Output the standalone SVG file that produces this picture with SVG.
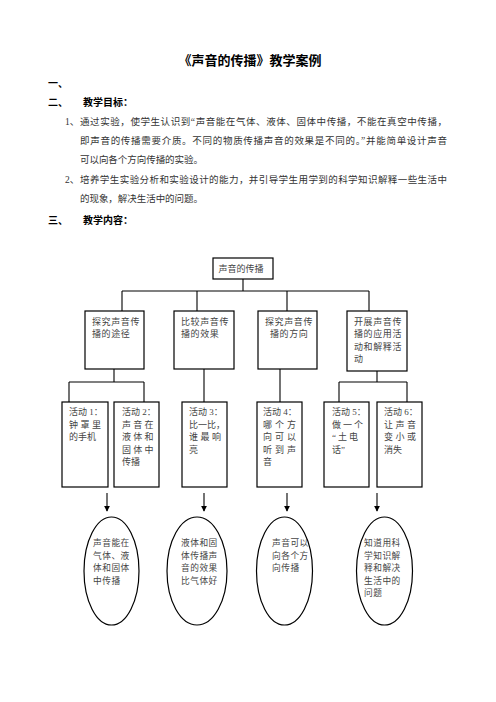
<svg xmlns="http://www.w3.org/2000/svg" width="496" height="702" viewBox="0 0 496 702">
<style>
.bg{fill:#fff}
.t{font-family:"Liberation Serif","Noto Sans CJK SC",serif;font-size:9.5px;fill:#333}
.h{font-family:"Liberation Serif","Noto Sans CJK SC",serif;font-size:10px;font-weight:bold;fill:#000}
.ttl{font-family:"Liberation Serif","Noto Sans CJK SC",serif;font-size:13px;font-weight:bold;fill:#000}
.n{font-family:"Liberation Serif","Noto Sans CJK SC",serif;font-size:9px;fill:#444}
.e{font-family:"Liberation Serif","Noto Sans CJK SC",serif;font-size:8.7px;fill:#444;letter-spacing:0.5px}
.box{fill:#fff;stroke:#000;stroke-width:1.2}
.ln{fill:none;stroke:#000;stroke-width:1.1}
.ar{fill:none;stroke:#000;stroke-width:1.1;marker-end:url(#ah)}
</style>
<defs>
<marker id="ah" viewBox="0 0 8 8" refX="7" refY="4" markerWidth="6" markerHeight="6" orient="auto" markerUnits="userSpaceOnUse">
<path d="M0,0 L8,4 L0,8 z" fill="#000"/>
</marker>
</defs>
<rect class="bg" x="0" y="0" width="496" height="702"/>

<g id="header">
<text class="ttl" x="250" y="65" text-anchor="middle">《声音的传播》教学案例</text>
<text class="h" x="48" y="87">一、</text>
<text class="h" x="48" y="106">二、</text>
<text class="h" x="83" y="106">教学目标：</text>
<text class="t" x="65" y="125">1、</text>
<text class="t" x="80" y="125" textLength="367" lengthAdjust="spacing">通过实验，使学生认识到“声音能在气体、液体、固体中传播，不能在真空中传播，</text>
<text class="t" x="80" y="144" textLength="367" lengthAdjust="spacing">即声音的传播需要介质。不同的物质传播声音的效果是不同的。”并能简单设计声音</text>
<text class="t" x="80" y="163" textLength="123" lengthAdjust="spacing">可以向各个方向传播的实验。</text>
<text class="t" x="65" y="183">2、</text>
<text class="t" x="80" y="183" textLength="367" lengthAdjust="spacing">培养学生实验分析和实验设计的能力，并引导学生用学到的科学知识解释一些生活中</text>
<text class="t" x="80" y="202" textLength="123" lengthAdjust="spacing">的现象，解决生活中的问题。</text>
<text class="h" x="48" y="224">三、</text>
<text class="h" x="83" y="224">教学内容：</text>
</g>

<g id="connectors">
<path class="ln" d="M243,279 V291 M122,291 H369 M122,291 V311 M197,291 V311 M287,291 V311 M369,291 V311"/>
<path class="ln" d="M114,369 V382 M69,382 H144 M69,382 V402 M144,382 V402"/>
<path class="ln" d="M204,369 V402"/>
<path class="ln" d="M280,369 V402"/>
<path class="ln" d="M377,371 V382 M339,382 H407 M339,382 V402 M407,382 V402"/>
<path class="ar" d="M107,493 V511"/>
<path class="ar" d="M204,493 V511"/>
<path class="ar" d="M287,493 V511"/>
<path class="ar" d="M377,493 V511"/>
</g>

<g id="root">
<rect class="box" x="213" y="258" width="60" height="21"/>
<text class="n" x="241" y="272" text-anchor="middle">声音的传播</text>
</g>

<g id="l2-1">
<rect class="box" x="85" y="311" width="59" height="58"/>
<text class="n" x="92" y="324.5" letter-spacing="0.6">探究声音传</text>
<text class="n" x="92" y="337" letter-spacing="0.6">播的途径</text>
</g>
<g id="l2-2">
<rect class="box" x="174" y="311" width="60" height="58"/>
<text class="n" x="181" y="324.5" letter-spacing="0.6">比较声音传</text>
<text class="n" x="181" y="337" letter-spacing="0.6">播的效果</text>
</g>
<g id="l2-3">
<rect class="box" x="258" y="311" width="59" height="58"/>
<text class="n" x="265" y="324.5" letter-spacing="0.6">探究声音传</text>
<text class="n" x="270" y="337" letter-spacing="0.6">播的方向</text>
</g>
<g id="l2-4">
<rect class="box" x="347" y="311" width="60" height="60"/>
<text class="n" x="354" y="324.5" letter-spacing="0.6">开展声音传</text>
<text class="n" x="354" y="337" letter-spacing="0.6">播的应用活</text>
<text class="n" x="354" y="349.5" letter-spacing="0.6">动和解释活</text>
<text class="n" x="354" y="362" letter-spacing="0.6">动</text>
</g>

<g id="a1">
<rect class="box" x="62" y="402" width="46" height="85"/>
<text class="n" x="69" y="415">活动 1：</text>
<text class="n" x="69" y="427.5" letter-spacing="2.5">钟罩里</text>
<text class="n" x="69" y="440">的手机</text>
</g>
<g id="a2">
<rect class="box" x="114" y="402" width="45" height="85"/>
<text class="n" x="122" y="415">活动 2：</text>
<text class="n" x="122" y="427.5" letter-spacing="2.2">声音在</text>
<text class="n" x="122" y="440" letter-spacing="2.2">液体和</text>
<text class="n" x="122" y="452.5" letter-spacing="2.2">固体中</text>
<text class="n" x="122" y="465">传播</text>
</g>
<g id="a3">
<rect class="box" x="182" y="402" width="45" height="85"/>
<text class="n" x="189" y="415">活动 3：</text>
<text class="n" x="189" y="427.5">比一比，</text>
<text class="n" x="189" y="440" letter-spacing="2.5">谁最响</text>
<text class="n" x="189" y="452.5">亮</text>
</g>
<g id="a4">
<rect class="box" x="257" y="402" width="45" height="85"/>
<text class="n" x="263" y="415">活动 4：</text>
<text class="n" x="263" y="427.5" letter-spacing="3">哪个方</text>
<text class="n" x="263" y="440" letter-spacing="3">向可以</text>
<text class="n" x="263" y="452.5" letter-spacing="3">听到声</text>
<text class="n" x="263" y="465">音</text>
</g>
<g id="a5">
<rect class="box" x="324" y="402" width="45" height="85"/>
<text class="n" x="332" y="415">活动 5：</text>
<text class="n" x="332" y="427.5" letter-spacing="2">做一个</text>
<text class="n" x="332" y="440" letter-spacing="2">“土电</text>
<text class="n" x="332" y="452.5">话”</text>
</g>
<g id="a6">
<rect class="box" x="377" y="402" width="45" height="85"/>
<text class="n" x="384" y="415">活动 6：</text>
<text class="n" x="384" y="427.5" letter-spacing="2.5">让声音</text>
<text class="n" x="384" y="440" letter-spacing="2.5">变小或</text>
<text class="n" x="384" y="452.5">消失</text>
</g>

<g id="e1">
<ellipse class="box" cx="111.5" cy="571" rx="27.5" ry="54"/>
<text class="e" x="93" y="546">声音能在</text>
<text class="e" x="93" y="558.5">气体、液</text>
<text class="e" x="93" y="571">体和固体</text>
<text class="e" x="93" y="583.5">中传播</text>
</g>
<g id="e2">
<ellipse class="box" cx="197" cy="571" rx="30" ry="54"/>
<text class="e" x="181" y="546">液体和固</text>
<text class="e" x="181" y="558.5">体传播声</text>
<text class="e" x="181" y="571">音的效果</text>
<text class="e" x="181" y="583.5">比气体好</text>
</g>
<g id="e3">
<ellipse class="box" cx="284.5" cy="571" rx="28" ry="54"/>
<text class="e" x="272" y="546">声音可以</text>
<text class="e" x="272" y="558.5">向各个方</text>
<text class="e" x="272" y="571">向传播</text>
</g>
<g id="e4">
<ellipse class="box" cx="384.5" cy="571" rx="28" ry="54"/>
<text class="e" x="364" y="546">知道用科</text>
<text class="e" x="364" y="558.5">学知识解</text>
<text class="e" x="364" y="571">释和解决</text>
<text class="e" x="364" y="583.5">生活中的</text>
<text class="e" x="364" y="596">问题</text>
</g>
</svg>
